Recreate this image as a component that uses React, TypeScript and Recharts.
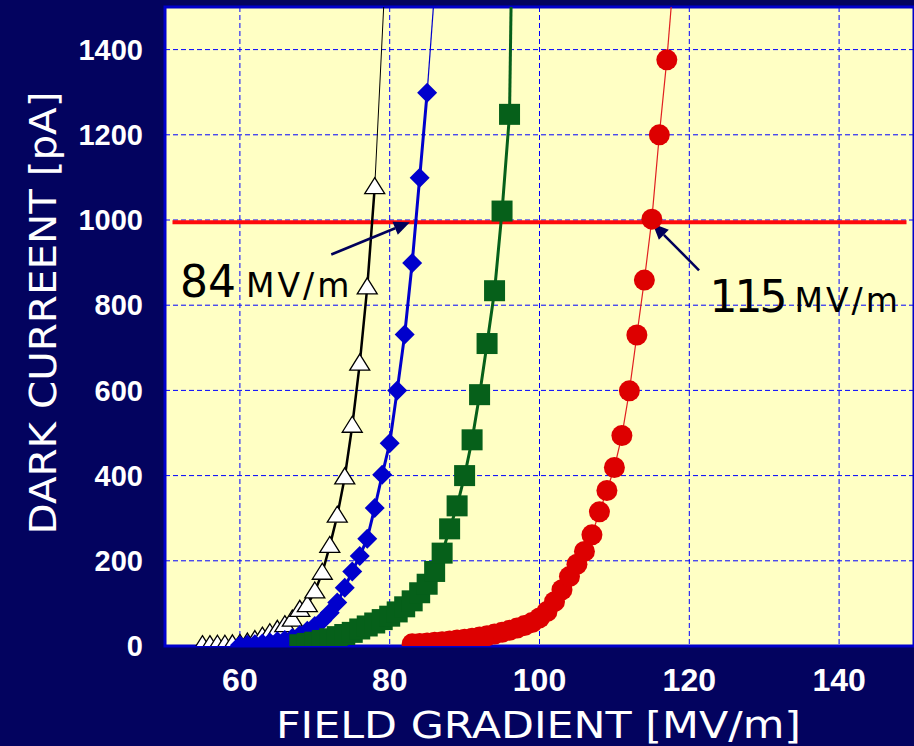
import {
  CartesianGrid,
  Label,
  Line,
  LineChart,
  ReferenceArea,
  ReferenceDot,
  ReferenceLine,
  XAxis,
  YAxis,
} from 'recharts';

// field gradient [MV/m] and dark current [pA]
const fieldA = [55, 56, 57, 58, 59, 60, 61, 62, 63, 64, 65, 66, 67, 68, 69, 70, 71, 72, 73, 74, 75, 76, 77, 78];
const currentA = [2, 2, 3, 3, 4, 5, 8, 14, 22, 30, 38, 49, 62, 85, 96, 128, 172, 235, 306, 396, 517, 663, 842, 1077];

const fieldB = [60, 61, 62, 63, 64, 65, 66, 67, 68, 69, 70, 71, 72, 73, 74, 75, 76, 77, 78, 79, 80, 81, 82, 83, 84, 85];
const currentB = [2, 3, 4, 6, 8, 11, 14, 19, 26, 36, 47, 60, 78, 102, 137, 175, 211, 252, 324, 402, 476, 600, 731, 899, 1099, 1299];

const fieldC = [68, 69, 70, 71, 72, 73, 74, 75, 76, 77, 78, 79, 80, 81, 82, 83, 84, 85, 86, 87, 88, 89, 90, 91, 92, 93, 94, 95, 96];
const currentC = [3, 6, 9, 13, 17, 22, 27, 32, 40, 47, 54, 62, 70, 80, 92, 106, 125, 145, 175, 218, 275, 329, 400, 484, 590, 710, 834, 1021, 1248];

const fieldD = [83, 84, 85, 86, 87, 88, 89, 90, 91, 92, 93, 94, 95, 96, 97, 98, 99, 100, 101, 102, 103, 104, 105, 106, 107, 108, 109, 110, 111, 112, 113, 114, 115, 116, 117];
const currentD = [5, 6, 7, 9, 10, 12, 14, 16, 18, 21, 24, 28, 32, 37, 42, 48, 55, 66, 81, 104, 132, 163, 192, 222, 261, 315, 365, 419, 494, 599, 730, 859, 1002, 1200, 1376];

// next point of each curve, above the top of the plot
const nextA = [80, 1785];
const nextB = [86, 1540];
const nextC = [97, 2500];
const nextD = [118, 1590];

const xTicks = [60, 80, 100, 120, 140];
const yTicks = [0, 200, 400, 600, 800, 1000, 1200, 1400];

const limit = 995;
const notes = [
  { value: '84', unit: 'MV/m', text: [52, 820], tail: [72.2, 919], tip: [82.7, 995] },
  { value: '115', unit: 'MV/m', text: [122.7, 785], tail: [121.3, 882], tip: [115.1, 992] },
];

const zip = (xs: number[], ys: number[]) => xs.map((x, i) => ({ x, y: ys[i] }));
const tail = (xs: number[], ys: number[], next: number[]) => [
  { x: xs[xs.length - 1], y: ys[ys.length - 1] },
  { x: next[0], y: next[1] },
];

const comic = "'Comic Sans MS', 'DejaVu Sans', sans-serif";

const Triangle = ({ cx, cy }: any) => (
  <polygon
    points={`${cx},${cy - 9.5} ${cx + 10},${cy + 6.5} ${cx - 10},${cy + 6.5}`}
    fill="#ffffff"
    stroke="#000000"
    strokeWidth={1.3}
  />
);
const Diamond = ({ cx, cy }: any) => (
  <polygon points={`${cx},${cy - 10} ${cx + 10},${cy} ${cx},${cy + 10} ${cx - 10},${cy}`} fill="#0000cc" />
);
const Square = ({ cx, cy }: any) => (
  <rect x={cx - 10.5} y={cy - 10.5} width={21} height={21} fill="#06601a" />
);
const Circle = ({ cx, cy }: any) => <circle cx={cx} cy={cy} r={10.5} fill="#dd0000" />;

const Arrow = ({ x1, y1, x2, y2 }: any) => {
  const dx = x2 - x1;
  const dy = y2 - y1;
  const len = Math.hypot(dx, dy);
  const ux = dx / len;
  const uy = dy / len;
  const bx = x2 - ux * 16;
  const by = y2 - uy * 16;
  return (
    <g>
      <line x1={x1} y1={y1} x2={bx} y2={by} stroke="#00005a" strokeWidth={2.5} />
      <polygon
        points={`${x2},${y2} ${bx - uy * 7},${by + ux * 7} ${bx + uy * 7},${by - ux * 7}`}
        fill="#00005a"
      />
    </g>
  );
};

export default function App() {
  return (
    <div style={{ width: 914, height: 746, background: '#03035f', overflow: 'hidden' }}>
      <style>{'body{margin:0}'}</style>
      <LineChart width={914} height={746} margin={{ top: 7, right: 0, bottom: 0, left: 0 }}>
        <CartesianGrid fill="#ffffc4" stroke="#0000ff" strokeDasharray="5 3" />
        <XAxis
          type="number"
          dataKey="x"
          domain={[50, 150]}
          ticks={xTicks}
          allowDataOverflow
          axisLine={false}
          tickLine={false}
          tickSize={0}
          tickMargin={22}
          height={100}
          tick={{ fill: '#ffffff', fontSize: 32, fontWeight: 'bold', fontFamily: 'Liberation Sans, Arial, sans-serif' }}
        >
          <Label
            content={({ viewBox }: any) => (
              <text
                x={viewBox.x + viewBox.width / 2 - 1}
                y={738}
                textAnchor="middle"
                fill="#ffffff"
                fontSize={38}
                fontFamily={comic}
                textLength={525}
                lengthAdjust="spacingAndGlyphs"
              >
                FIELD GRADIENT [MV/m]
              </text>
            )}
          />
        </XAxis>
        <YAxis
          type="number"
          dataKey="y"
          domain={[0, 1500]}
          ticks={yTicks}
          allowDataOverflow
          axisLine={false}
          tickLine={false}
          tickSize={0}
          tickMargin={22}
          width={165}
          tick={{ fill: '#ffffff', fontSize: 29, fontWeight: 'bold', fontFamily: 'Liberation Sans, Arial, sans-serif' }}
        >
          <Label
            content={() => (
              <text
                x={0}
                y={0}
                transform="translate(56 313) rotate(-90)"
                textAnchor="middle"
                fill="#ffffff"
                fontSize={38}
                fontFamily={comic}
                textLength={443}
                lengthAdjust="spacingAndGlyphs"
              >
                DARK CURREENT [pA]
              </text>
            )}
          />
        </YAxis>
        <ReferenceArea x1={50} x2={150} y1={0} y2={1500} fill="none" stroke="#0000cc" strokeWidth={3} />
        <ReferenceLine
          segment={[{ x: 51, y: limit }, { x: 149, y: limit }]}
          stroke="#ff0a0a"
          strokeWidth={4}
        />

        <Line data={tail(fieldA, currentA, nextA)} dataKey="y" stroke="#000000" strokeWidth={1} dot={false} isAnimationActive={false} />
        <Line data={tail(fieldB, currentB, nextB)} dataKey="y" stroke="#0000cc" strokeWidth={1.2} dot={false} isAnimationActive={false} />
        <Line data={tail(fieldC, currentC, nextC)} dataKey="y" stroke="#06601a" strokeWidth={3} dot={false} isAnimationActive={false} />
        <Line data={tail(fieldD, currentD, nextD)} dataKey="y" stroke="#e02020" strokeWidth={1.2} dot={false} isAnimationActive={false} />

        <Line data={zip(fieldA, currentA)} dataKey="y" stroke="#000000" strokeWidth={2.5} dot={<Triangle />} isAnimationActive={false} />
        <Line data={zip(fieldB, currentB)} dataKey="y" stroke="#0000cc" strokeWidth={3} dot={<Diamond />} isAnimationActive={false} />
        <Line data={zip(fieldC, currentC)} dataKey="y" stroke="#06601a" strokeWidth={3} dot={<Square />} isAnimationActive={false} />
        <Line data={zip(fieldD, currentD)} dataKey="y" stroke="#e02020" strokeWidth={1.2} dot={<Circle />} isAnimationActive={false} />

        {notes.map((n) => (
          <ReferenceLine
            key={n.value + '-arrow'}
            segment={[{ x: n.tail[0], y: n.tail[1] }, { x: n.tip[0], y: n.tip[1] }]}
            shape={(p: any) => <Arrow {...p} />}
            ifOverflow="visible"
          />
        ))}
        {notes.map((n) => (
          <ReferenceDot
            key={n.value + '-text'}
            x={n.text[0]}
            y={n.text[1]}
            r={0}
            ifOverflow="visible"
            shape={(p: any) => (
              <text x={p.cx} y={p.cy} fill="#000000" fontFamily={comic}>
                <tspan fontSize={44} letterSpacing={n.value.length > 2 ? -3 : 0}>{n.value}</tspan>
                <tspan fontSize={33} dx={10} letterSpacing={3}>{n.unit}</tspan>
              </text>
            )}
          />
        ))}
      </LineChart>
    </div>
  );
}
